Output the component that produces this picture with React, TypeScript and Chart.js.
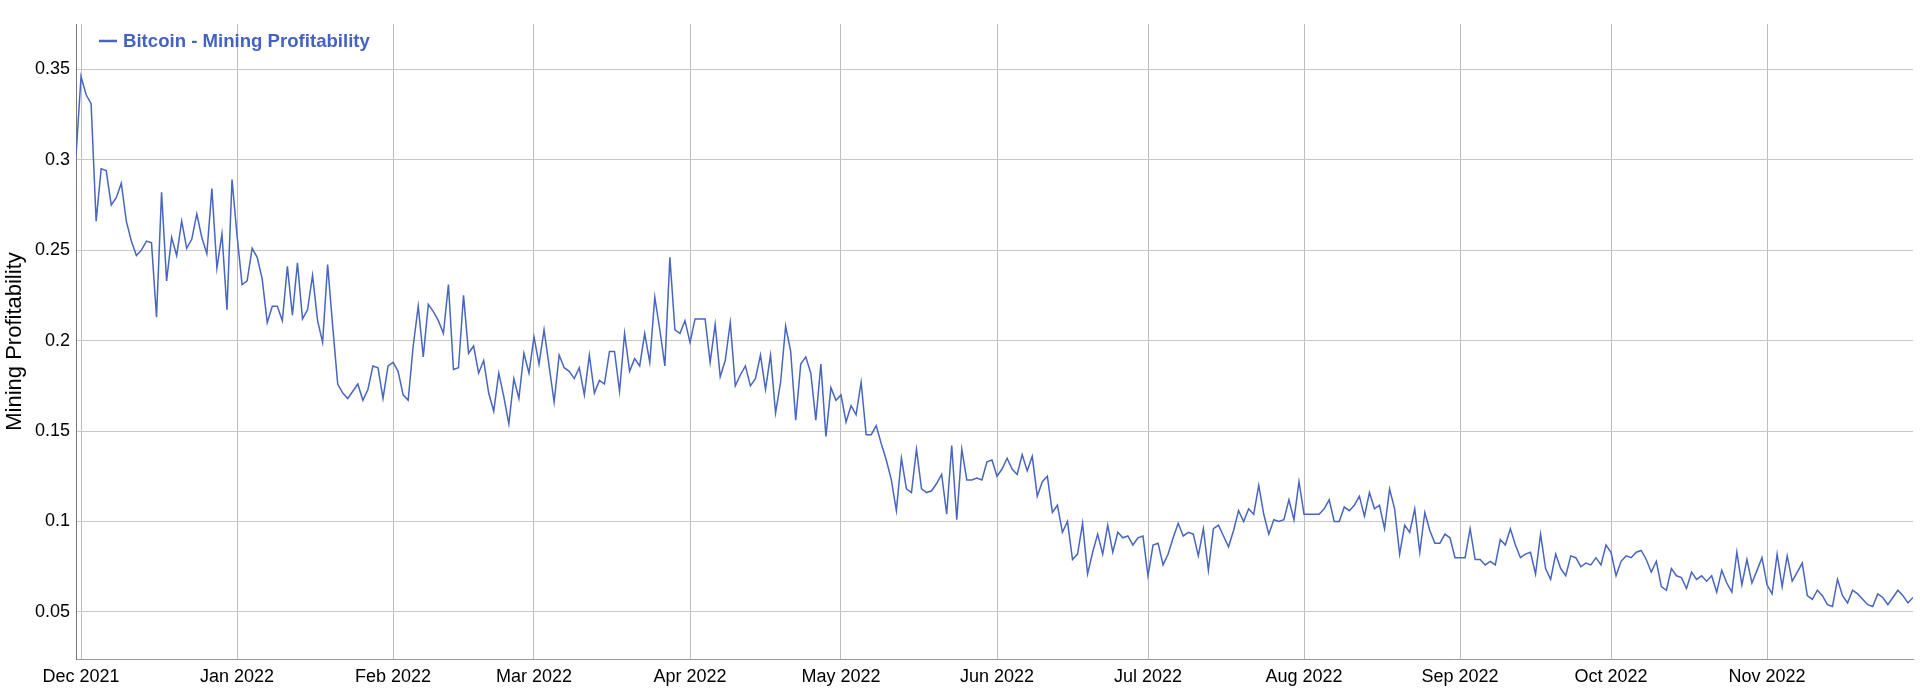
import React, { useEffect, useRef } from "react";
import { Chart, registerables } from "chart.js";

Chart.register(...registerables);

// Day index 0 = 30 Nov 2021, one value per day
const seriesName = "Bitcoin - Mining Profitability";
const yAxisTitle = "Mining Profitability";

const monthTickDays = [1, 32, 63, 91, 122, 152, 183, 213, 244, 275, 305, 336];
const monthTickLabels = [
  "Dec 2021", "Jan 2022", "Feb 2022", "Mar 2022", "Apr 2022", "May 2022",
  "Jun 2022", "Jul 2022", "Aug 2022", "Sep 2022", "Oct 2022", "Nov 2022",
];
const yTickValues = [0.05, 0.1, 0.15, 0.2, 0.25, 0.3, 0.35];
const yTickLabels = ["0.05", "0.1", "0.15", "0.2", "0.25", "0.3", "0.35"];

const dec2021 = [0.302, 0.346, 0.336, 0.331, 0.266, 0.295, 0.294, 0.275, 0.279, 0.287, 0.266, 0.255, 0.247, 0.250, 0.255, 0.254, 0.213, 0.282, 0.233, 0.257, 0.247, 0.266, 0.251, 0.256, 0.270, 0.257, 0.248, 0.284, 0.240, 0.259, 0.217, 0.289];
const jan2022 = [0.258, 0.231, 0.233, 0.251, 0.246, 0.234, 0.210, 0.219, 0.219, 0.211, 0.241, 0.214, 0.243, 0.212, 0.217, 0.236, 0.211, 0.199, 0.242, 0.208, 0.176, 0.171, 0.168, 0.172, 0.176, 0.167, 0.173, 0.186, 0.185, 0.168, 0.186];
const feb2022 = [0.188, 0.183, 0.170, 0.167, 0.197, 0.219, 0.191, 0.220, 0.216, 0.211, 0.204, 0.231, 0.184, 0.185, 0.225, 0.193, 0.197, 0.182, 0.189, 0.171, 0.161, 0.182, 0.169, 0.154, 0.179, 0.168, 0.193, 0.182];
const mar2022 = [0.202, 0.187, 0.206, 0.186, 0.166, 0.192, 0.185, 0.183, 0.179, 0.185, 0.170, 0.192, 0.171, 0.178, 0.176, 0.194, 0.194, 0.172, 0.204, 0.183, 0.190, 0.186, 0.204, 0.188, 0.224, 0.206, 0.186, 0.246, 0.206, 0.204, 0.211];
const apr2022 = [0.199, 0.212, 0.212, 0.212, 0.188, 0.209, 0.180, 0.189, 0.210, 0.175, 0.181, 0.186, 0.175, 0.179, 0.192, 0.173, 0.192, 0.160, 0.177, 0.208, 0.194, 0.156, 0.187, 0.191, 0.182, 0.156, 0.187, 0.147, 0.174, 0.167];
const may2022 = [0.170, 0.155, 0.164, 0.159, 0.177, 0.148, 0.148, 0.153, 0.143, 0.134, 0.123, 0.106, 0.135, 0.118, 0.116, 0.140, 0.118, 0.116, 0.117, 0.121, 0.126, 0.104, 0.142, 0.101, 0.140, 0.123, 0.123, 0.124, 0.123, 0.133, 0.134];
const jun2022 = [0.125, 0.129, 0.135, 0.129, 0.126, 0.137, 0.128, 0.136, 0.114, 0.122, 0.125, 0.105, 0.109, 0.094, 0.100, 0.079, 0.082, 0.099, 0.071, 0.083, 0.093, 0.082, 0.098, 0.083, 0.094, 0.091, 0.092, 0.087, 0.091, 0.092];
const jul2022 = [0.070, 0.087, 0.088, 0.076, 0.082, 0.091, 0.099, 0.092, 0.094, 0.093, 0.081, 0.096, 0.073, 0.096, 0.098, 0.092, 0.086, 0.095, 0.106, 0.100, 0.107, 0.104, 0.120, 0.104, 0.093, 0.101, 0.100, 0.101, 0.112, 0.101, 0.122];
const aug2022 = [0.104, 0.104, 0.104, 0.104, 0.107, 0.112, 0.100, 0.100, 0.108, 0.106, 0.109, 0.114, 0.103, 0.116, 0.107, 0.109, 0.096, 0.118, 0.107, 0.082, 0.098, 0.094, 0.107, 0.083, 0.105, 0.095, 0.088, 0.088, 0.093, 0.091, 0.080];
const sep2022 = [0.080, 0.080, 0.096, 0.079, 0.079, 0.076, 0.078, 0.076, 0.090, 0.087, 0.096, 0.087, 0.080, 0.082, 0.083, 0.071, 0.093, 0.074, 0.068, 0.082, 0.074, 0.070, 0.081, 0.080, 0.075, 0.077, 0.076, 0.080, 0.076, 0.087];
const oct2022 = [0.083, 0.070, 0.078, 0.081, 0.080, 0.083, 0.084, 0.079, 0.072, 0.078, 0.064, 0.062, 0.074, 0.070, 0.069, 0.063, 0.072, 0.068, 0.070, 0.067, 0.070, 0.061, 0.073, 0.066, 0.061, 0.083, 0.065, 0.079, 0.066, 0.073, 0.080];
const nov2022 = [0.065, 0.060, 0.082, 0.064, 0.081, 0.067, 0.072, 0.077, 0.059, 0.057, 0.062, 0.059, 0.054, 0.053, 0.068, 0.059, 0.055, 0.062, 0.060, 0.057, 0.054, 0.053, 0.060, 0.058, 0.054, 0.058, 0.062, 0.059, 0.055, 0.058];

const profitability = [
  ...dec2021, ...jan2022, ...feb2022, ...mar2022, ...apr2022, ...may2022,
  ...jun2022, ...jul2022, ...aug2022, ...sep2022, ...oct2022, ...nov2022,
];

const LINE_COLOR = "#4865c0";
const LEGEND_COLOR = "#4462c2";
const FONT_FAMILY = '"Liberation Sans", Arial, Helvetica, sans-serif';

const legendPlugin = {
  id: "insideLegend",
  afterDraw(chart: any) {
    const { ctx, chartArea } = chart;
    const x = chartArea.left + 23;
    const y = chartArea.top + 17;
    ctx.save();
    ctx.fillStyle = LINE_COLOR;
    ctx.fillRect(x, y - 1.25, 18, 2.5);
    ctx.font = `bold 18.6px ${FONT_FAMILY}`;
    ctx.textBaseline = "middle";
    ctx.textAlign = "left";
    ctx.fillStyle = LEGEND_COLOR;
    ctx.fillText(seriesName, x + 24, y + 0.5);
    ctx.restore();
  },
};

export default function App() {
  const canvasRef = useRef<HTMLCanvasElement | null>(null);

  useEffect(() => {
    if (!canvasRef.current) return;
    Chart.defaults.font.family = FONT_FAMILY;
    const points = profitability.map((v, i) => ({ x: i, y: v }));
    const chart = new Chart(canvasRef.current, {
      type: "line",
      data: {
        datasets: [
          {
            label: seriesName,
            data: points,
            borderColor: LINE_COLOR,
            borderWidth: 1.5,
            pointRadius: 0,
            tension: 0,
            fill: false,
          },
        ],
      },
      options: {
        animation: false,
        responsive: false,
        maintainAspectRatio: false,
        layout: { padding: { top: 24, right: 7, left: 0, bottom: 0 } },
        plugins: {
          legend: { display: false },
          tooltip: { enabled: false },
        },
        scales: {
          x: {
            type: "linear",
            min: 0,
            max: 365,
            afterBuildTicks: (s: any) => {
              s.ticks = monthTickDays.map((v) => ({ value: v }));
            },
            afterFit: (s: any) => {
              s.height = 33;
            },
            ticks: {
              autoSkip: false,
              maxRotation: 0,
              padding: 7,
              color: "#000",
              font: { size: 18 },
              callback: (v: any) => {
                const i = monthTickDays.indexOf(Number(v));
                return i >= 0 ? monthTickLabels[i] : "";
              },
            },
            grid: { color: "#bdbdbd", drawTicks: false, lineWidth: 1 },
            border: { display: true, color: "#999", width: 1 },
          },
          y: {
            type: "linear",
            min: 0.024,
            max: 0.375,
            afterBuildTicks: (s: any) => {
              s.ticks = yTickValues.map((v) => ({ value: v }));
            },
            afterFit: (s: any) => {
              s.width = 76;
            },
            ticks: {
              padding: 6,
              color: "#000",
              font: { size: 18 },
              callback: (v: any) => {
                const i = yTickValues.findIndex((t) => Math.abs(t - Number(v)) < 1e-9);
                return i >= 0 ? yTickLabels[i] : "";
              },
            },
            title: {
              display: true,
              text: yAxisTitle,
              color: "#000",
              font: { size: 22 },
              padding: { top: 2, bottom: 2 },
            },
            grid: { color: "#c8c8c8", drawTicks: false, lineWidth: 1 },
            border: { display: true, color: "#777", width: 1 },
          },
        },
      },
      plugins: [legendPlugin],
    });
    return () => chart.destroy();
  }, []);

  return (
    <div style={{ position: "absolute", left: 0, top: 0, width: 1920, height: 692, background: "#fff" }}>
      <canvas ref={canvasRef} width={1920} height={692} />
    </div>
  );
}
